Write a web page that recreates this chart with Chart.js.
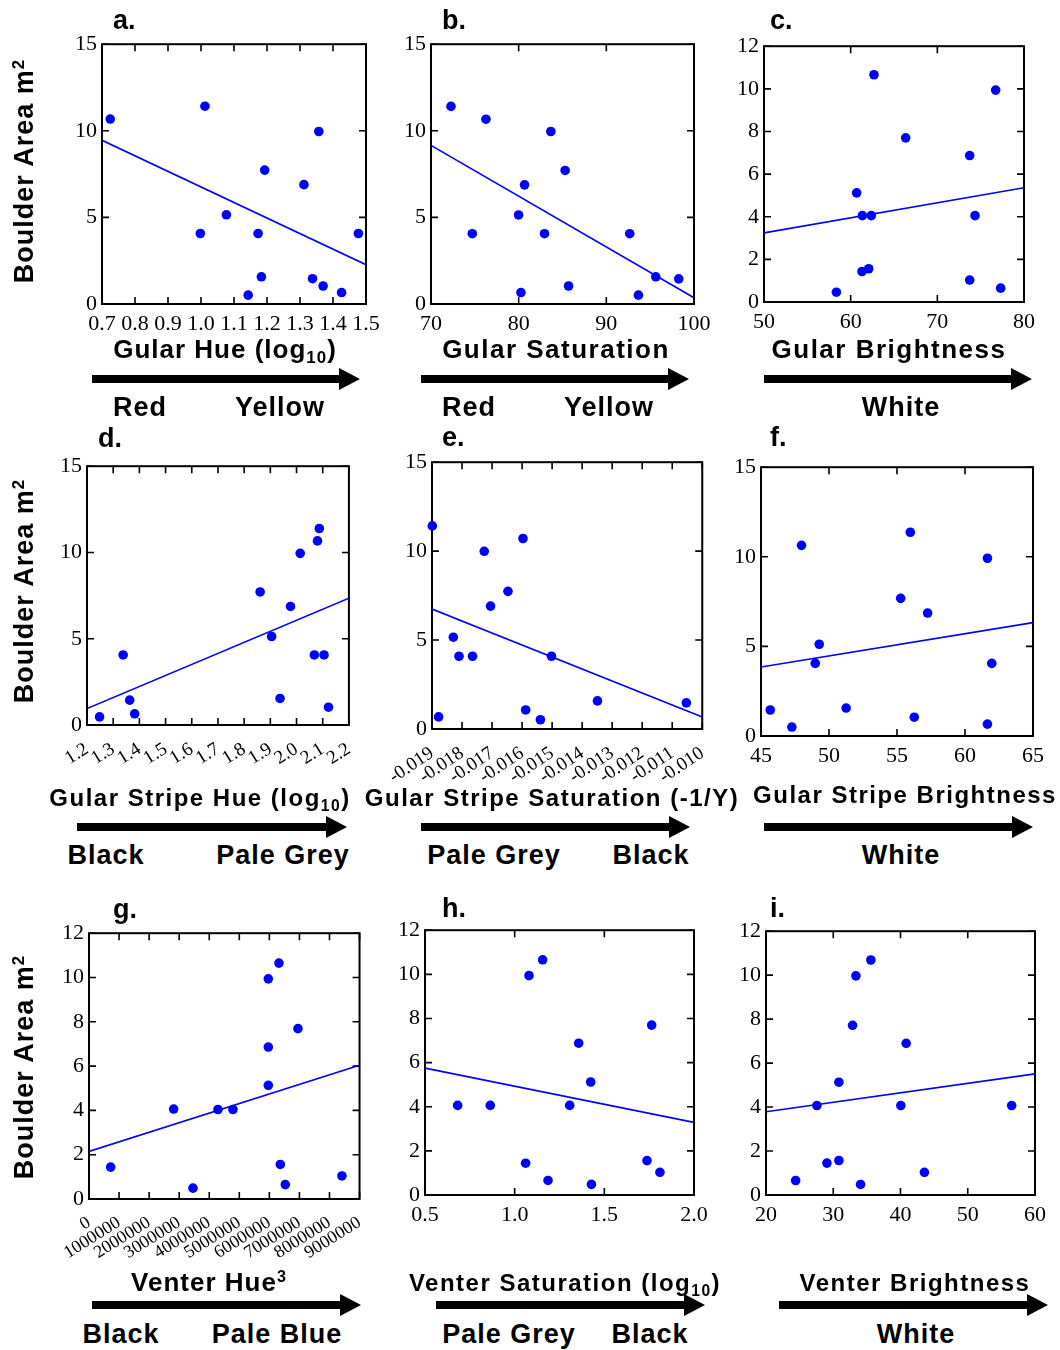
<!DOCTYPE html>
<html>
<head>
<meta charset="utf-8">
<script src="https://cdn.jsdelivr.net/npm/chart.js@4.4.1/dist/chart.umd.min.js"></script>
<style>
  body { margin: 0; background: #fff; overflow: hidden; }
  #page { position: relative; width: 1060px; height: 1350px; }
  canvas { position: absolute; }
  .txt { position: absolute; font-family: 'Liberation Sans', Arial, sans-serif; font-weight: bold; color: #000; line-height: 1; white-space: nowrap; }
  .txt sub { font-size: 65%; line-height: 0; position: relative; top: 0.3em; vertical-align: baseline; }
  .txt sup { font-size: 62%; line-height: 0; position: relative; top: -0.55em; vertical-align: baseline; }
  .shaft, .head { position: absolute; }
  .shaft { height: 8px; background: #000; }
  .head { width: 0; height: 0; border-left: 21px solid #000; border-top: 11px solid transparent; border-bottom: 11px solid transparent; }
</style>
</head>
<body>
<div id="page"></div>
<script>
// a. Gular Hue (log10)
const hueX = [0.725, 1.012, 1.357, 1.193, 1.312, 1.077, 0.998, 1.173, 1.477, 1.183, 1.338, 1.370, 1.426, 1.143];
const hueY = [10.68, 11.42, 9.96, 7.73, 6.89, 5.15, 4.07, 4.07, 4.07, 1.57, 1.46, 1.04, 0.66, 0.51];
const hueFit = [9.45, 2.27];
const hueTicks = [0.7, 0.8, 0.9, 1.0, 1.1, 1.2, 1.3, 1.4, 1.5];

// b. Gular Saturation
const satX = [72.28, 76.27, 83.67, 85.3, 80.67, 79.99, 74.71, 82.95, 92.67, 95.64, 98.26, 85.69, 80.26, 93.66];
const satY = [11.41, 10.67, 9.96, 7.71, 6.88, 5.14, 4.06, 4.06, 4.06, 1.57, 1.45, 1.04, 0.66, 0.51];
const satFit = [9.16, 0.36];
const satTicks = [70, 80, 90, 100];

// c. Gular Brightness
const brightX = [62.69, 76.73, 66.35, 73.73, 60.69, 61.35, 62.38, 74.35, 62.08, 61.31, 73.73, 77.31, 58.35];
const brightY = [10.66, 9.94, 7.70, 6.87, 5.12, 4.05, 4.05, 4.05, 1.56, 1.43, 1.03, 0.65, 0.46];
const brightFit = [3.24, 5.36];
const brightTicks = [50, 60, 70, 80];

// d. Gular Stripe Hue (log10)
const stripeHueX = [2.087, 2.080, 2.014, 1.861, 1.977, 1.905, 1.338, 2.068, 2.105, 1.937, 1.363, 2.122, 1.382, 1.248];
const stripeHueY = [11.39, 10.67, 9.95, 7.71, 6.87, 5.13, 4.06, 4.06, 4.06, 1.54, 1.44, 1.03, 0.65, 0.47];
const stripeHueFit = [0.95, 7.35];
const stripeHueTicks = [1.2, 1.3, 1.4, 1.5, 1.6, 1.7, 1.8, 1.9, 2.0, 2.1, 2.2];

// e. Gular Stripe Saturation (-1/Y)
const stripeSatX = [-0.01899, -0.01597, -0.01726, -0.01647, -0.01705, -0.01829, -0.01810, -0.01765, -0.01502, -0.01349, -0.01053, -0.01588, -0.01878, -0.01539];
const stripeSatY = [11.42, 10.71, 9.99, 7.74, 6.91, 5.16, 4.09, 4.09, 4.09, 1.58, 1.47, 1.07, 0.68, 0.52];
const stripeSatFit = [6.74, 0.68];
const stripeSatTicks = [-0.019, -0.018, -0.017, -0.016, -0.015, -0.014, -0.013, -0.012, -0.011, -0.010];

// f. Gular Stripe Brightness
const stripeBrightX = [55.98, 47.98, 61.65, 55.27, 57.25, 49.28, 48.99, 61.97, 51.26, 45.68, 56.27, 61.65, 47.27];
const stripeBrightY = [11.37, 10.64, 9.92, 7.68, 6.86, 5.12, 4.05, 4.05, 1.56, 1.45, 1.05, 0.66, 0.50];
const stripeBrightFit = [3.85, 6.33];
const stripeBrightTicks = [45, 50, 55, 60, 65];

// g. Venter Hue^3
const venterHueX = [6319000, 5965000, 6951000, 5965000, 5965000, 2816000, 4290000, 4789000, 6364000, 721000, 8415000, 6530000, 3459000];
const venterHueY = [10.65, 9.94, 7.69, 6.86, 5.13, 4.06, 4.04, 4.04, 1.56, 1.44, 1.04, 0.65, 0.49];
const venterHueFit = [2.15, 6.04];
const venterHueTicks = [0, 1000000, 2000000, 3000000, 4000000, 5000000, 6000000, 7000000, 8000000, 9000000];

// h. Venter Saturation (log10)
const venterSatX = [1.156, 1.080, 1.764, 1.357, 1.424, 0.682, 0.864, 1.307, 1.738, 1.061, 1.810, 1.186, 1.428];
const venterSatY = [10.66, 9.94, 7.70, 6.88, 5.12, 4.06, 4.06, 4.06, 1.56, 1.44, 1.03, 0.66, 0.48];
const venterSatFit = [5.75, 3.29];
const venterSatTicks = [0.5, 1.0, 1.5, 2.0];

// i. Venter Brightness
const venterBrightX = [35.59, 33.37, 32.87, 40.84, 30.84, 27.57, 40.05, 56.53, 30.84, 29.06, 43.56, 24.41, 34.06];
const venterBrightY = [10.69, 9.97, 7.72, 6.90, 5.13, 4.07, 4.07, 4.07, 1.57, 1.45, 1.03, 0.66, 0.48];
const venterBrightFit = [3.79, 5.51];
const venterBrightTicks = [20, 30, 40, 50, 60];

const areaTicks15 = [0, 5, 10, 15];
const areaTicks12 = [0, 2, 4, 6, 8, 10, 12];

const page = document.getElementById('page');
const padL = 64, padT = 14, padR = 24, padB = 80;
const serif = 'Liberation Serif';

// frame and inward tick marks on all four sides
const boxTicks = {
    id: 'boxTicks',
    beforeDatasetsDraw(chart) {
        const c = chart.ctx;
        const a = chart.chartArea;
        const sx = chart.scales.x;
        const sy = chart.scales.y;
        c.save();
        c.strokeStyle = '#000';
        c.lineWidth = 1.6;
        c.beginPath();
        sx.ticks.forEach(function (t) {
            const p = sx.getPixelForValue(t.value);
            c.moveTo(p, a.bottom); c.lineTo(p, a.bottom - 7);
            c.moveTo(p, a.top); c.lineTo(p, a.top + 7);
        });
        sy.ticks.forEach(function (t) {
            const p = sy.getPixelForValue(t.value);
            c.moveTo(a.left, p); c.lineTo(a.left + 7, p);
            c.moveTo(a.right, p); c.lineTo(a.right - 7, p);
        });
        c.stroke();
        c.lineWidth = 2;
        c.strokeRect(a.left, a.top, a.right - a.left, a.bottom - a.top);
        c.restore();
    }
};

function makePanel(box, xs, ys, fit, xTicks, yTicks, decimals, rot, rotSize) {
    const cv = document.createElement('canvas');
    const w = box[2] - box[0] + padL + padR;
    const h = box[3] - box[1] + padT + padB;
    cv.width = w; cv.height = h;
    cv.style.left = (box[0] - padL) + 'px';
    cv.style.top = (box[1] - padT) + 'px';
    cv.style.width = w + 'px';
    cv.style.height = h + 'px';
    page.appendChild(cv);

    const pts = xs.map(function (x, i) { return { x: x, y: ys[i] }; });
    const x0 = xTicks[0], x1 = xTicks[xTicks.length - 1];

    new Chart(cv.getContext('2d'), {
        type: 'scatter',
        data: {
            datasets: [{
                data: pts,
                backgroundColor: '#0000ff',
                borderColor: '#0000ff',
                pointRadius: 4.8,
                borderWidth: 0,
                clip: false
            }, {
                type: 'line',
                data: [{ x: x0, y: fit[0] }, { x: x1, y: fit[1] }],
                borderColor: '#0000ff',
                borderWidth: 1.6,
                pointRadius: 0,
                fill: false
            }]
        },
        options: {
            responsive: false,
            animation: false,
            layout: { padding: { left: 0, top: padT, right: padR, bottom: 0 } },
            plugins: { legend: { display: false }, tooltip: { enabled: false } },
            scales: {
                x: {
                    type: 'linear',
                    min: x0,
                    max: x1,
                    grid: { display: false, drawTicks: false },
                    border: { display: false },
                    afterBuildTicks: function (s) { s.ticks = xTicks.map(function (v) { return { value: v }; }); },
                    afterFit: function (s) { s.height = padB; },
                    ticks: {
                        autoSkip: false,
                        color: '#000',
                        padding: rot ? 13 : 7,
                        minRotation: rot,
                        maxRotation: rot,
                        font: { family: serif, size: rot ? rotSize : 22 },
                        callback: function (v) { return decimals >= 0 ? Number(v).toFixed(decimals) : String(v); }
                    }
                },
                y: {
                    min: yTicks[0],
                    max: yTicks[yTicks.length - 1],
                    grid: { display: false, drawTicks: false },
                    border: { display: false },
                    afterBuildTicks: function (s) { s.ticks = yTicks.map(function (v) { return { value: v }; }); },
                    afterFit: function (s) { s.width = padL; },
                    ticks: {
                        color: '#000',
                        padding: 5,
                        font: { family: serif, size: 22 },
                        callback: function (v) { return String(v); }
                    }
                }
            }
        },
        plugins: [boxTicks]
    });
}

makePanel([102, 40, 366, 304], hueX, hueY, hueFit, hueTicks, areaTicks15, 1, 0);
makePanel([431, 40, 694, 304], satX, satY, satFit, satTicks, areaTicks15, -1, 0);
makePanel([764, 42, 1024, 302], brightX, brightY, brightFit, brightTicks, areaTicks12, -1, 0);
makePanel([87, 462, 350, 725], stripeHueX, stripeHueY, stripeHueFit, stripeHueTicks, areaTicks15, 1, 32, 19);
makePanel([432, 458, 704, 729], stripeSatX, stripeSatY, stripeSatFit, stripeSatTicks, areaTicks15, 3, 34, 19);
makePanel([761, 463, 1033, 736], stripeBrightX, stripeBrightY, stripeBrightFit, stripeBrightTicks, areaTicks15, -1, 0);
makePanel([89, 929, 360, 1199], venterHueX, venterHueY, venterHueFit, venterHueTicks, areaTicks12, -1, 32, 18);
makePanel([425, 926, 694, 1195], venterSatX, venterSatY, venterSatFit, venterSatTicks, areaTicks12, 1, 0);
makePanel([766, 927, 1035, 1195], venterBrightX, venterBrightY, venterBrightFit, venterBrightTicks, areaTicks12, -1, 0);

// text: centred at (x, y)
function addText(html, x, y, size, spacing, rotate) {
    const d = document.createElement('div');
    d.className = 'txt';
    d.innerHTML = html;
    d.style.left = x + 'px';
    d.style.top = y + 'px';
    d.style.fontSize = size + 'px';
    d.style.letterSpacing = spacing + 'px';
    d.style.transform = 'translate(-50%, -50%)' + (rotate ? ' rotate(-90deg)' : '');
    page.appendChild(d);
}

function addLetter(txt, x, top) {
    const d = document.createElement('div');
    d.className = 'txt';
    d.textContent = txt;
    d.style.left = x + 'px';
    d.style.top = top + 'px';
    d.style.fontSize = '27px';
    page.appendChild(d);
}

function addArrow(x1, x2, y) {
    const s = document.createElement('div');
    s.className = 'shaft';
    s.style.left = x1 + 'px';
    s.style.top = (y - 4) + 'px';
    s.style.width = (x2 - x1 - 20) + 'px';
    page.appendChild(s);
    const hd = document.createElement('div');
    hd.className = 'head';
    hd.style.left = (x2 - 21) + 'px';
    hd.style.top = (y - 11) + 'px';
    page.appendChild(hd);
}

addLetter('a.', 113, 7);
addLetter('b.', 442, 7);
addLetter('c.', 770, 7);
addLetter('d.', 98, 425);
addLetter('e.', 442, 424);
addLetter('f.', 770, 424);
addLetter('g.', 113, 896);
addLetter('h.', 442, 895);
addLetter('i.', 770, 895);

addText('Boulder Area m<sup>2</sup>', 24, 171, 27, 1, true);
addText('Boulder Area m<sup>2</sup>', 24, 591, 27, 1, true);
addText('Boulder Area m<sup>2</sup>', 24, 1067, 27, 1, true);

addText('Gular Hue (log<sub>10</sub>)', 225, 349, 26, 1, false);
addText('Gular Saturation', 556, 349, 26, 1.5, false);
addText('Gular Brightness', 889, 349, 26, 1.5, false);
addText('Gular Stripe Hue (log<sub>10</sub>)', 200, 798, 24, 1.5, false);
addText('Gular Stripe Saturation (-1/Y)', 552, 798, 24, 1.5, false);
addText('Gular Stripe Brightness', 905, 795, 24, 1.5, false);
addText('Venter Hue<sup>3</sup>', 209, 1282, 26, 1, false);
addText('Venter Saturation (log<sub>10</sub>)', 565, 1283, 24, 1.5, false);
addText('Venter Brightness', 915, 1283, 24, 1.5, false);

addArrow(92, 360, 379);
addArrow(421, 689, 379);
addArrow(764, 1032, 379);
addArrow(77, 347, 827);
addArrow(421, 690, 827);
addArrow(764, 1033, 827);
addArrow(92, 361, 1305);
addArrow(436, 705, 1305);
addArrow(779, 1048, 1305);

addText('Red', 140, 407, 27, 1, false);
addText('Yellow', 280, 407, 27, 1, false);
addText('Red', 469, 407, 27, 1, false);
addText('Yellow', 609, 407, 27, 1, false);
addText('White', 901, 407, 27, 1, false);
addText('Black', 106, 855, 27, 1, false);
addText('Pale Grey', 283, 855, 27, 1, false);
addText('Pale Grey', 494, 855, 27, 1, false);
addText('Black', 651, 855, 27, 1, false);
addText('White', 901, 855, 27, 1, false);
addText('Black', 121, 1334, 27, 1, false);
addText('Pale Blue', 277, 1334, 27, 1, false);
addText('Pale Grey', 509, 1334, 27, 1, false);
addText('Black', 650, 1334, 27, 1, false);
addText('White', 916, 1334, 27, 1, false);
</script>
</body>
</html>
